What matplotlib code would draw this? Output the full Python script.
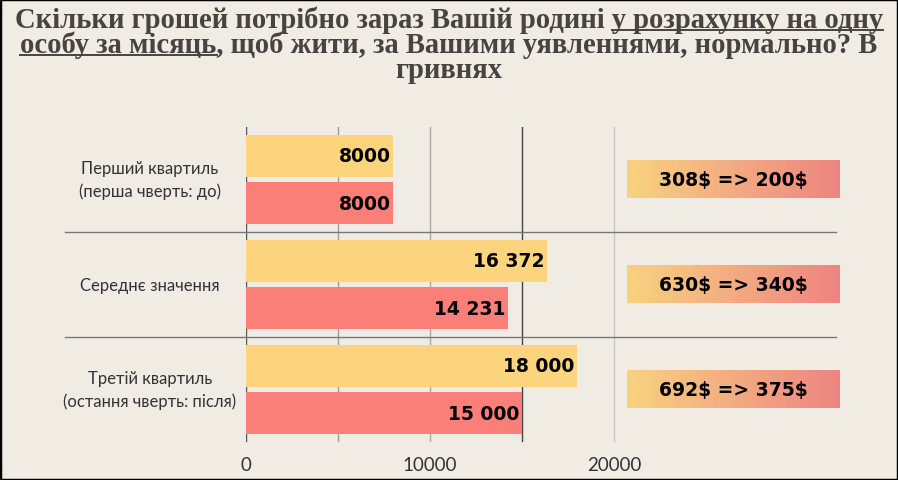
import numpy as np
import matplotlib
matplotlib.use("Agg")
import matplotlib.pyplot as plt
from matplotlib.colors import LinearSegmentedColormap
from matplotlib.lines import Line2D
from matplotlib.patches import Rectangle

# ---- data ----
categories = ["Перший квартиль\n(перша чверть: до)",
              "Середнє значення",
              "Третій квартиль\n(остання чверть: після)"]
before = [8000, 16372, 18000]
now = [8000, 14231, 15000]
before_labels = ["8000", "16 372", "18 000"]
now_labels = ["8000", "14 231", "15 000"]
usd_notes = ["308$ => 200$", "630$ => 340$", "692$ => 375$"]
xticks = [0, 10000, 20000]
grid_x = [0, 5000, 10000, 15000, 20000]

title_lines = ["Скільки грошей потрібно зараз Вашій родині у розрахунку на одну",
               "особу за місяць, щоб жити, за Вашими уявленнями, нормально? В",
               "гривнях"]

BG = "#F0ECE4"
YELLOW = "#FDD47E"
RED = "#F97F78"
TXT = "#333333"
W, H = 898, 481

fig = plt.figure(figsize=(W / 100, H / 100), dpi=100, facecolor=BG)
fig.patches.append(Rectangle((0, 0), 1, 1, transform=fig.transFigure, fill=False,
                             edgecolor="black", linewidth=2.5))

# axes: x=0 at px 246, 18.4 px per 1000
ax_left, ax_right, ax_top, ax_bot = 246, 840, 128, 443
ax = fig.add_axes([ax_left / W, 1 - ax_bot / H, (ax_right - ax_left) / W, (ax_bot - ax_top) / H])
ax.set_facecolor(BG)
xmax = (ax_right - ax_left) / 0.0184
ax.set_xlim(0, xmax)
ax.set_ylim(2.5, -0.5)
for s in ax.spines.values():
    s.set_visible(False)

grid_col = {0: "#555555", 5000: "#9c9c9c", 10000: "#a8a8a8", 15000: "#444444", 20000: "#c6c6c6"}
for gx in grid_x:
    ax.axvline(gx, color=grid_col[gx], lw=1.0, zorder=0)

y = np.arange(len(categories))
h = 0.40
ax.barh(y - 0.225, before, height=h, color=YELLOW, zorder=2)
ax.barh(y + 0.225, now, height=h, color=RED, zorder=2)

vfont = dict(family="DejaVu Sans", weight="bold", fontsize=13.5, color="black", parse_math=False)
for i in y:
    ax.annotate(before_labels[i], (before[i], i - 0.225), xytext=(-2, 0), textcoords="offset points",
                ha="right", va="center", zorder=3, **vfont)
    ax.annotate(now_labels[i], (now[i], i + 0.225), xytext=(-2, 0), textcoords="offset points",
                ha="right", va="center", zorder=3, **vfont)

# separators between groups
yt = ax.get_yaxis_transform()
sep_x0 = (65 - ax_left) / (ax_right - ax_left)
sep_x1 = (836 - ax_left) / (ax_right - ax_left)
for sy in [0.5, 1.5]:
    ax.plot([sep_x0, sep_x1], [sy, sy], color="#777777", lw=1.0, transform=yt, clip_on=False, zorder=1)

# left category labels
lab_x = (150 - ax_left) / (ax_right - ax_left)
for i, c in enumerate(categories):
    ax.text(lab_x, i, c, transform=yt, ha="center", va="center", fontsize=12,
            family="Lato", color=TXT, linespacing=1.45)

# gradient boxes
cmap = LinearSegmentedColormap.from_list("g", ["#F8D280", "#EE8480"])
grad = np.linspace(0, 1, 256).reshape(1, -1)
bx0 = (627 - ax_left) / 0.0184
bx1 = (840 - ax_left) / 0.0184
for i, note in enumerate(usd_notes):
    ax.imshow(grad, cmap=cmap, aspect="auto", extent=(bx0, bx1, i + 0.18, i - 0.18), zorder=2)
    ax.text((bx0 + bx1) / 2, i, note, ha="center", va="center", zorder=3, **vfont)
ax.set_xlim(0, xmax)
ax.set_ylim(2.5, -0.5)

ax.set_yticks([])
ax.set_xticks(xticks)
ax.set_xticklabels([str(t) for t in xticks], fontsize=13.5, family="Lato", color=TXT)
ax.tick_params(axis="x", length=0, pad=10)

# title with underlined parts
r = fig.canvas.get_renderer()
tfont = dict(family="Liberation Serif", weight="bold", color="#48433F")
probe = fig.text(0, 0, title_lines[0], fontsize=20, **tfont)
fs = 20 * 870 / probe.get_window_extent(r).width
probe.remove()


def text_w(s):
    t = fig.text(0, 0, s, fontsize=fs, **tfont)
    w = t.get_window_extent(r).width
    t.remove()
    return w


baselines = [28, 53, 78]
lines = []
for ln, base in zip(title_lines, baselines):
    lines.append(fig.text(0.5, 1 - base / H, ln, ha="center", va="baseline", fontsize=fs, **tfont))

b0 = lines[0].get_window_extent(r)
u0 = b0.x0 + text_w("Скільки грошей потрібно зараз Вашій родині у") - text_w("у")
b1 = lines[1].get_window_extent(r)
u1 = b1.x0 + text_w("особу за місяць")
for (xa, xb), base in [((u0, b0.x1), baselines[0]), ((b1.x0, u1), baselines[1])]:
    fig.add_artist(Line2D([xa / W, xb / W], [1 - (base + 3) / H] * 2, color="#48433F", lw=1.4,
                          transform=fig.transFigure))

fig.savefig("out.png", dpi=100, facecolor=BG)
